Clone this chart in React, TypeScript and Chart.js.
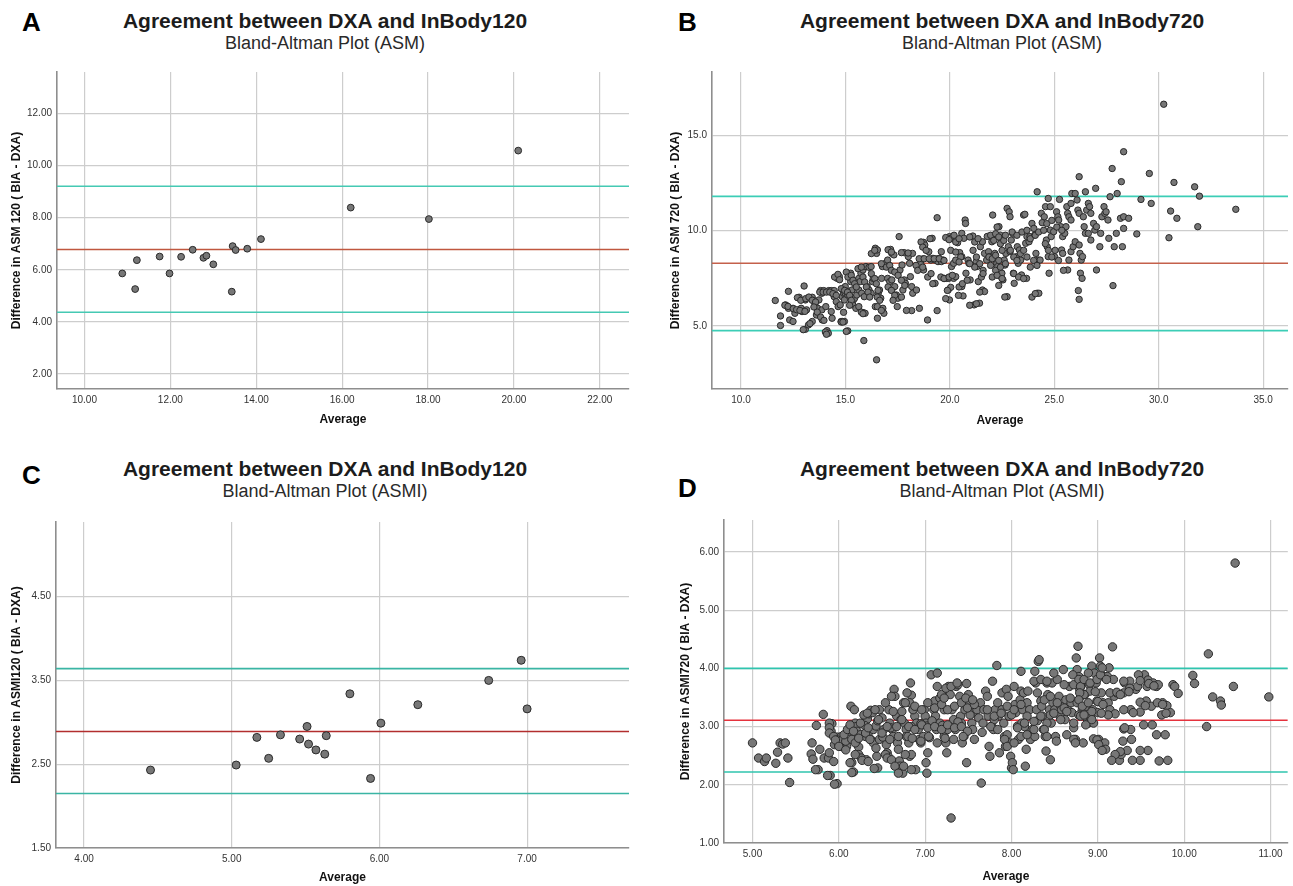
import React, { useEffect, useRef } from 'react';
import { Chart, registerables } from 'chart.js';

Chart.register(...registerables);

// ---------- Data ----------
const A_X_TICKS = [10, 12, 14, 16, 18, 20, 22];
const A_Y_TICKS = [2, 4, 6, 8, 10, 12];
const A_LIMITS = [9.21, 6.78, 4.37]; // upper LoA, mean, lower LoA
const A_POINTS: number[][] = [
  [10.88, 5.86], [11.18, 5.26], [11.22, 6.37], [11.75, 6.51], [11.98, 5.86], [12.25, 6.5],
  [12.52, 6.77], [12.77, 6.46], [12.84, 6.54], [13.0, 6.21], [13.43, 5.16], [13.45, 6.91],
  [13.52, 6.76], [13.79, 6.81], [14.11, 7.18], [16.2, 8.39], [18.02, 7.95], [20.1, 10.58],
];

const B_X_TICKS = [10, 15, 20, 25, 30, 35];
const B_Y_TICKS = [5, 10, 15];
const B_LIMITS = [11.8, 8.29, 4.76];
const B_POINTS: number[][] = [
  [11.64, 6.34], [11.89, 5.53], [11.89, 5.03], [12.13, 6.11], [12.19, 6.06], [12.27, 6.82],
  [12.27, 5.93], [12.33, 5.32], [12.49, 5.93], [12.49, 5.24], [12.58, 5.67], [12.78, 6.51],
  [12.88, 5.93], [12.92, 5.76], [13.02, 7.1], [13.08, 6.37], [13.08, 4.83], [13.14, 5.85],
  [13.23, 5.06], [13.35, 6.46], [13.41, 6.51], [13.41, 5.24], [13.47, 6.34], [13.55, 6.2],
  [13.61, 5.58], [13.67, 5.93], [13.73, 6.37], [13.81, 6.86], [13.87, 6.72], [13.96, 6.86],
  [13.87, 5.85], [13.89, 5.32], [14.06, 6.02], [14.12, 4.76], [14.18, 4.62], [14.2, 6.86],
  [14.32, 6.86], [14.46, 6.86], [14.32, 5.76], [14.36, 5.41], [14.46, 6.54], [14.56, 6.28],
  [14.6, 7.5], [14.71, 7.59], [14.65, 6.02], [14.75, 6.11], [14.79, 5.24], [14.87, 5.24],
  [14.95, 5.24], [14.85, 6.54], [14.91, 6.72], [14.95, 6.37], [14.91, 6.89], [14.99, 7.07],
  [14.99, 6.72], [15.11, 6.63], [15.15, 6.81], [14.91, 5.72], [15.25, 7.77], [15.35, 7.42],
  [15.25, 7.33], [15.31, 6.89], [15.38, 6.37], [15.44, 6.46], [15.54, 6.63], [15.11, 4.75],
  [15.35, 6.11], [15.5, 5.93], [15.64, 6.02], [15.64, 7.5], [15.7, 7.33], [15.74, 7.77],
  [15.84, 7.94], [15.64, 6.89], [15.78, 6.72], [15.9, 6.54], [15.88, 4.24], [15.84, 5.71],
  [15.94, 5.67], [15.98, 8.12], [16.13, 8.08], [16.23, 8.12], [16.04, 7.07], [16.13, 6.89],
  [16.23, 6.72], [16.29, 7.33], [16.33, 7.5], [16.43, 9.08], [16.49, 8.81], [16.53, 8.99],
  [16.49, 3.23], [16.43, 6.02], [16.53, 6.02], [16.53, 5.41], [16.57, 6.72], [16.63, 6.89],
  [16.69, 6.46], [16.73, 7.5], [16.77, 8.12], [16.79, 5.93], [16.84, 5.67], [16.92, 8.29],
  [17.02, 8.46], [17.08, 8.15], [17.02, 7.5], [17.12, 7.33], [17.22, 7.42], [17.16, 9.02],
  [17.22, 8.81], [17.32, 8.73], [17.22, 6.89], [17.36, 7.07], [17.44, 6.63], [17.51, 6.46],
  [17.48, 6.02], [17.57, 9.69], [17.51, 7.77], [17.61, 7.94], [17.71, 8.2], [17.75, 6.89],
  [17.81, 7.42], [17.87, 7.24], [17.81, 8.85], [18.01, 8.64], [18.07, 8.29], [18.11, 7.59],
  [18.17, 7.07], [18.22, 6.72], [18.17, 5.81], [18.21, 8.81], [18.4, 6.89], [18.54, 5.93],
  [18.6, 8.29], [18.7, 8.52], [18.74, 7.94], [18.74, 9.39], [18.8, 9.25], [18.93, 5.32],
  [18.99, 8.9], [19.09, 8.46], [19.19, 8.55], [19.15, 9.6], [19.29, 8.46], [19.35, 8.52],
  [19.43, 8.38], [19.49, 8.55], [19.59, 8.38], [19.68, 8.46], [19.39, 10.68], [19.29, 7.24],
  [19.39, 5.81], [19.59, 8.9], [19.74, 7.5], [19.84, 7.5], [19.94, 7.5], [19.98, 9.69],
  [20.04, 9.6], [19.98, 6.37], [19.92, 6.89], [20.04, 7.03], [20.08, 8.12], [20.18, 8.29],
  [20.28, 8.46], [20.18, 7.5], [20.28, 7.59], [20.28, 9.51], [20.37, 9.37], [20.47, 8.85],
  [20.57, 8.64], [20.57, 9.86], [20.67, 9.6], [20.73, 10.56], [20.75, 10.38], [20.63, 6.58],
  [20.57, 7.07], [20.77, 7.77], [20.87, 8.46], [20.91, 8.29], [20.97, 7.42], [21.1, 9.72],
  [21.16, 6.11], [21.26, 8.38], [21.3, 8.12], [21.36, 7.33], [21.42, 6.2], [21.46, 9.16],
  [21.56, 9.42], [21.66, 8.81], [21.56, 6.89], [21.66, 6.81], [21.76, 8.46], [21.85, 8.9],
  [21.89, 8.64], [21.95, 9.69], [22.01, 9.42], [22.05, 10.82], [22.15, 8.81], [22.21, 8.46],
  [22.25, 8.29], [22.29, 8.12], [22.35, 10.21], [22.41, 9.77], [22.45, 9.51], [22.45, 7.59],
  [22.49, 7.77], [22.54, 7.42], [22.6, 8.46], [22.64, 8.2], [22.68, 8.81], [22.74, 11.17],
  [22.84, 10.99], [22.88, 10.73], [22.74, 6.54], [22.8, 9.16], [22.88, 8.9], [22.94, 9.51],
  [23.0, 9.86], [23.04, 7.77], [23.08, 7.24], [23.2, 8.64], [23.23, 9.16], [23.27, 8.29],
  [23.33, 8.99], [23.39, 8.46], [23.43, 7.68], [23.53, 10.82], [23.59, 10.86], [23.63, 9.34],
  [23.69, 9.69], [23.79, 9.42], [23.83, 9.69], [23.67, 7.5], [23.93, 10.38], [24.02, 10.12],
  [24.06, 9.77], [24.12, 8.81], [24.22, 8.46], [24.32, 8.46], [24.18, 6.72], [24.26, 6.72],
  [24.18, 12.04], [24.38, 10.91], [24.42, 10.42], [24.52, 10.73], [24.58, 11.26], [24.62, 9.51],
  [24.66, 9.16], [24.71, 8.64], [24.71, 11.69], [24.81, 11.26], [24.81, 10.03], [24.85, 9.69],
  [24.97, 9.95], [24.75, 7.77], [25.01, 8.64], [25.11, 10.99], [25.17, 10.73], [25.21, 10.56],
  [25.25, 11.64], [25.31, 10.21], [25.35, 8.99], [25.4, 8.81], [25.4, 9.69], [25.5, 9.86],
  [25.56, 10.21], [25.6, 11.26], [25.64, 10.91], [25.7, 10.73], [25.8, 10.56], [25.7, 8.46],
  [25.8, 8.9], [25.64, 7.94], [25.8, 11.43], [25.84, 11.95], [25.9, 9.16], [26.0, 9.42],
  [26.0, 11.95], [26.09, 11.61], [26.13, 11.08], [26.19, 10.91], [26.19, 9.25], [26.23, 8.81],
  [26.29, 8.46], [26.35, 8.64], [26.15, 6.86], [26.19, 6.4], [26.19, 12.83], [26.25, 7.77],
  [26.33, 7.5], [26.39, 10.73], [26.43, 10.21], [26.49, 9.86], [26.49, 12.04], [26.55, 11.08],
  [26.63, 11.43], [26.69, 11.26], [26.75, 10.91], [26.63, 9.86], [26.75, 9.51], [26.98, 12.22],
  [26.88, 10.38], [26.94, 10.03], [27.02, 10.21], [27.02, 7.94], [27.18, 9.16], [27.22, 9.86],
  [27.28, 10.73], [27.38, 11.26], [27.42, 10.91], [27.48, 10.99], [27.57, 10.56], [27.61, 9.6],
  [27.67, 11.78], [27.77, 13.26], [27.81, 7.12], [27.87, 9.16], [27.97, 9.86], [28.01, 11.95],
  [28.17, 10.65], [28.21, 12.57], [28.26, 9.16], [28.32, 10.12], [28.32, 10.73], [28.32, 14.14],
  [28.56, 10.65], [28.95, 9.83], [29.15, 11.64], [29.55, 13.0], [29.64, 11.43], [30.24, 16.63],
  [30.49, 9.63], [30.57, 11.03], [30.73, 12.53], [30.87, 10.65], [31.72, 12.3], [31.87, 10.21],
  [31.95, 11.81], [33.69, 11.12],
  [12.1, 6.09], [12.25, 6.03], [12.5, 5.91], [12.66, 5.86], [12.82, 5.82], [13.06, 5.77],
  [12.7, 6.49], [12.86, 6.35], [13.1, 6.44], [13.25, 6.52], [13.41, 6.35], [13.57, 6.26],
  [13.77, 6.78], [13.93, 6.78], [14.09, 6.78], [14.25, 6.78], [14.4, 6.7], [14.56, 6.61],
  [13.49, 6.0], [13.65, 5.73], [13.81, 5.47], [13.97, 5.3], [12.98, 4.81], [13.3, 5.13],
  [14.04, 4.69], [14.09, 4.57], [14.48, 7.57], [14.64, 7.71], [14.72, 7.43], [14.8, 6.96],
  [14.96, 6.87], [15.1, 6.78], [15.2, 6.61], [15.28, 6.35], [15.2, 6.09], [15.04, 7.83],
  [15.12, 7.57], [15.28, 7.66], [15.36, 7.4], [15.44, 7.22], [15.52, 7.05], [14.8, 5.21],
  [14.88, 5.21], [15.04, 4.72], [15.6, 8.01], [15.76, 8.09], [15.84, 7.57], [15.92, 7.31],
  [16.0, 7.05], [16.08, 6.78], [16.16, 6.52], [15.76, 5.73], [15.84, 5.65], [16.24, 8.8],
  [16.4, 8.97], [16.24, 7.75], [16.4, 7.49], [16.48, 7.22], [16.56, 6.87], [16.52, 6.52],
  [16.64, 6.35], [16.72, 5.82], [16.72, 8.27], [16.96, 8.09], [17.12, 8.18], [17.2, 7.92],
  [17.36, 7.83], [17.52, 7.66], [17.68, 7.4], [17.84, 7.13], [17.04, 7.05], [17.2, 6.87],
  [17.36, 6.61], [17.28, 6.35], [17.68, 6.52], [17.92, 5.82], [17.04, 9.0], [17.2, 8.88],
  [17.68, 8.85], [18.0, 8.83],
  [18.53, 8.53], [18.77, 8.53], [19.01, 8.53], [19.25, 8.53], [19.49, 8.53], [19.72, 8.44],
  [18.38, 8.18], [18.46, 7.92], [18.7, 8.09], [18.94, 7.57], [19.1, 7.75], [19.18, 7.22],
  [18.62, 9.41], [18.7, 9.14], [18.86, 8.97], [19.05, 9.58], [19.57, 7.57], [19.72, 7.49],
  [19.96, 7.57], [20.12, 7.66], [19.88, 6.87], [19.8, 6.44], [20.44, 7.05], [20.41, 6.61],
  [20.6, 7.22], [20.83, 7.4], [19.8, 9.64], [19.96, 9.53], [20.2, 9.76], [20.28, 9.41],
  [20.44, 9.58], [20.04, 8.97], [20.28, 8.88], [20.52, 8.62], [20.44, 8.36], [20.95, 9.67],
  [21.19, 9.41], [21.35, 9.58], [21.11, 8.97], [21.27, 8.62], [21.43, 8.27], [21.59, 7.92],
  [21.19, 8.09], [20.95, 8.27], [20.95, 6.09], [21.27, 6.17], [21.43, 6.78], [21.51, 7.57],
  [21.59, 7.75], [21.79, 9.7], [21.95, 9.76], [22.1, 9.49], [22.19, 9.84], [22.26, 10.19],
  [22.34, 9.67], [22.42, 9.32], [22.5, 8.97], [22.58, 9.49], [22.66, 9.76], [21.87, 8.62],
  [22.03, 8.53], [22.19, 8.71], [22.34, 8.44], [21.95, 8.18], [22.19, 7.92], [22.42, 8.09],
  [22.66, 8.27], [22.03, 7.57], [22.26, 7.66], [22.5, 7.49], [22.34, 7.13], [22.63, 6.52],
  [22.9, 8.97], [23.06, 8.62], [23.21, 8.44], [23.38, 8.8], [23.53, 8.97], [23.69, 8.62],
  [23.85, 8.09], [24.01, 8.44], [24.17, 8.18], [22.98, 9.93], [23.21, 9.76], [23.45, 9.93],
  [23.69, 10.02], [23.85, 9.58], [24.09, 9.76], [24.25, 9.93], [24.49, 10.02], [23.06, 7.75],
  [23.29, 7.57], [23.53, 7.49], [23.93, 6.52], [24.09, 6.7], [24.57, 9.32], [24.72, 8.97],
  [24.88, 8.62], [25.04, 8.97], [25.2, 8.44], [25.44, 7.92], [24.64, 10.37], [24.88, 10.54],
  [25.12, 10.19], [25.36, 10.02],
];

const C_X_TICKS = [4, 5, 6, 7];
const C_Y_TICKS = [1.5, 2.5, 3.5, 4.5];
const C_LIMITS = [3.64, 2.89, 2.15];
const C_POINTS: number[][] = [
  [4.45, 2.43], [5.03, 2.49], [5.17, 2.82], [5.25, 2.57], [5.33, 2.85], [5.46, 2.8],
  [5.51, 2.95], [5.52, 2.74], [5.57, 2.67], [5.63, 2.62], [5.64, 2.84], [5.8, 3.34],
  [5.94, 2.33], [6.01, 2.99], [6.26, 3.21], [6.74, 3.5], [6.96, 3.74], [7.0, 3.16],
];

const D_X_TICKS = [5, 6, 7, 8, 9, 10, 11];
const D_Y_TICKS = [1, 2, 3, 4, 5, 6];
const D_LIMITS = [4.0, 3.11, 2.22];
const D_POINTS: number[][] = [
  [5.0, 2.72], [5.07, 2.46], [5.14, 2.4], [5.16, 2.46], [5.27, 2.37], [5.29, 2.56],
  [5.32, 2.72], [5.35, 2.7], [5.38, 2.72], [5.41, 2.46], [5.43, 2.04], [5.69, 2.72],
  [5.68, 2.53], [5.7, 2.44], [5.74, 3.02], [5.76, 2.26], [5.78, 2.61], [5.82, 3.21],
  [5.83, 2.46], [5.88, 2.46], [5.89, 2.55], [5.9, 2.16], [5.91, 2.92], [5.92, 3.05],
  [5.95, 2.69], [5.94, 2.4], [5.98, 2.02], [5.98, 2.82], [6.03, 2.66], [6.03, 2.83],
  [6.07, 2.78], [6.11, 2.92], [6.09, 2.66], [6.14, 3.35], [6.18, 3.29], [6.15, 2.38],
  [6.17, 2.22], [6.19, 3.06], [6.2, 3.0], [6.16, 2.78], [6.2, 2.72], [6.23, 2.65],
  [6.21, 2.92], [6.25, 2.86], [6.23, 2.52], [6.26, 2.46], [6.28, 3.06], [6.31, 2.83],
  [6.32, 2.43], [6.33, 3.13], [6.35, 3.22], [6.37, 3.28], [6.39, 3.24], [6.34, 2.89],
  [6.37, 2.78], [6.4, 2.95], [6.4, 2.72], [6.43, 3.01], [6.44, 2.49], [6.45, 2.29],
  [6.43, 2.63], [6.47, 2.78], [6.47, 3.29], [6.5, 3.15], [6.52, 2.95], [6.51, 2.82],
  [6.55, 2.69], [6.56, 2.55], [6.57, 2.49], [6.58, 3.29], [6.59, 3.06], [6.62, 2.95],
  [6.63, 2.83], [6.64, 3.64], [6.65, 3.52], [6.67, 3.18], [6.68, 2.72], [6.69, 2.61],
  [6.7, 2.41], [6.71, 2.32], [6.73, 3.26], [6.75, 3.41], [6.76, 3.06], [6.74, 2.2],
  [6.75, 2.32], [6.78, 2.95], [6.78, 2.83], [6.81, 2.72], [6.82, 2.49], [6.84, 2.52],
  [6.83, 3.75], [6.84, 3.54], [6.82, 3.41], [6.86, 3.29], [6.88, 3.18], [6.9, 3.06],
  [6.92, 2.95], [6.89, 2.26], [6.93, 2.78], [6.95, 2.72], [6.98, 2.83], [6.99, 3.29],
  [7.0, 3.18], [7.01, 3.06], [7.02, 3.01], [7.01, 2.38], [7.02, 2.2], [7.03, 2.55],
  [7.05, 2.81], [7.07, 3.89], [7.1, 3.29], [7.11, 3.44], [7.12, 3.18], [7.13, 2.95],
  [7.14, 3.92], [7.17, 3.06], [7.17, 3.49], [7.19, 3.55], [7.22, 3.29], [7.22, 2.83],
  [7.24, 2.72], [7.25, 2.55], [7.26, 2.95], [7.27, 3.69], [7.29, 3.55], [7.3, 1.43],
  [7.31, 3.29], [7.33, 3.12], [7.35, 2.95], [7.36, 3.69], [7.38, 3.72], [7.4, 3.52],
  [7.41, 3.18], [7.42, 3.06], [7.43, 2.72], [7.45, 2.83], [7.46, 3.29], [7.48, 3.74],
  [7.49, 3.41], [7.5, 3.55], [7.48, 2.38], [7.54, 3.06], [7.55, 2.95], [7.56, 3.24],
  [7.57, 2.78], [7.6, 3.29], [7.62, 3.15], [7.64, 3.41], [7.65, 2.03], [7.67, 3.06],
  [7.68, 3.29], [7.7, 3.61], [7.72, 3.52], [7.73, 3.18], [7.74, 2.66], [7.75, 2.49],
  [7.77, 3.01], [7.78, 3.78], [7.79, 2.95], [7.81, 3.29], [7.83, 4.05], [7.84, 3.41],
  [7.85, 3.18], [7.86, 2.55], [7.89, 3.58], [7.89, 3.29], [7.91, 3.06], [7.92, 2.83],
  [7.93, 2.66], [7.94, 3.64], [7.96, 3.52], [7.97, 3.18], [7.98, 2.72], [7.99, 2.49],
  [8.0, 2.29], [8.01, 2.38], [8.02, 2.26], [8.03, 3.69], [8.04, 3.38], [8.05, 3.24],
  [8.07, 3.01], [8.08, 2.78], [8.1, 3.46], [8.11, 3.61], [8.12, 3.06], [8.13, 3.29],
  [8.11, 3.95], [8.14, 3.58], [8.16, 2.32], [8.17, 2.61], [8.18, 3.41], [8.19, 3.61],
  [8.21, 3.29], [8.22, 2.78], [8.24, 2.95], [8.27, 2.83], [8.29, 3.29], [8.31, 4.12],
  [8.32, 4.15], [8.27, 3.95], [8.28, 3.75], [8.34, 3.44], [8.35, 3.35], [8.36, 3.18],
  [8.37, 2.95], [8.39, 2.83], [8.4, 2.58], [8.41, 3.75], [8.42, 3.55], [8.44, 3.29],
  [8.45, 2.43], [8.46, 3.06], [8.47, 3.75], [8.48, 3.41], [8.5, 3.29], [8.51, 2.83],
  [8.52, 2.75], [8.53, 3.81], [8.55, 3.52], [8.56, 3.18], [8.57, 3.35], [8.58, 3.29],
  [8.6, 3.98], [8.63, 3.46], [8.65, 3.29], [8.67, 3.69], [8.69, 3.41], [8.7, 3.24],
  [8.72, 2.98], [8.74, 2.78], [8.75, 4.18], [8.76, 3.98], [8.77, 4.38], [8.78, 3.86],
  [8.79, 3.64], [8.8, 3.52], [8.82, 3.29], [8.83, 2.72], [8.84, 3.78], [8.85, 3.55],
  [8.87, 3.35], [8.88, 3.12], [8.89, 3.06], [8.9, 3.72], [8.91, 3.61], [8.93, 4.04],
  [8.94, 3.29], [8.95, 3.06], [8.96, 3.92], [8.98, 3.75], [8.99, 3.44], [9.0, 3.24],
  [9.01, 2.78], [9.02, 4.18], [9.03, 4.04], [9.04, 3.58], [9.06, 3.41], [9.07, 3.86],
  [9.08, 2.72], [9.09, 2.61], [9.11, 3.86], [9.12, 3.41], [9.13, 4.01], [9.14, 3.29],
  [9.17, 4.37], [9.18, 3.81], [9.19, 3.52], [9.2, 3.22], [9.22, 3.58], [9.25, 2.42],
  [9.27, 2.52], [9.3, 3.58], [9.31, 3.75], [9.34, 2.59], [9.37, 3.78], [9.38, 3.29],
  [9.38, 2.95], [9.39, 2.78], [9.44, 3.64], [9.46, 3.69], [9.49, 3.25], [9.49, 2.42],
  [9.54, 3.89], [9.56, 3.44], [9.58, 3.8], [9.58, 2.59], [9.62, 3.35], [9.63, 3.03],
  [9.64, 3.75], [9.68, 3.69], [9.7, 3.72], [9.75, 3.41], [9.78, 2.86], [9.8, 3.36],
  [9.81, 2.42], [9.84, 3.24], [9.87, 3.72], [9.89, 3.69], [9.93, 3.57], [10.1, 3.88],
  [10.12, 3.74], [10.26, 3.0], [10.28, 4.25], [10.33, 3.51], [10.42, 3.44], [10.43, 3.37],
  [10.57, 3.69], [10.59, 5.81], [10.98, 3.51],
  [6.3, 3.02], [6.45, 3.1], [6.6, 2.98], [6.72, 3.12], [6.95, 3.05], [7.08, 3.1],
  [7.2, 3.02], [7.38, 3.08], [7.52, 3.2], [7.66, 2.9], [7.8, 3.12], [8.0, 3.2],
  [8.15, 3.0], [8.3, 3.1], [8.45, 3.2], [8.62, 3.12], [8.78, 3.2], [8.92, 3.15],
  [5.89, 3.06], [5.89, 2.98], [5.89, 2.89], [5.94, 2.83], [5.98, 2.77], [6.0, 2.67],
  [6.04, 2.77], [6.08, 2.75], [6.06, 2.86], [6.1, 2.95], [6.13, 3.03], [6.17, 2.92],
  [6.15, 2.78], [6.19, 2.72], [6.23, 2.8], [6.25, 3.06], [6.29, 3.2], [6.33, 3.23],
  [6.31, 2.89], [6.34, 2.98], [6.36, 2.78], [6.42, 3.29], [6.46, 3.12], [6.5, 2.89],
  [6.54, 3.41], [6.56, 3.0], [6.59, 2.78], [6.61, 3.52], [6.63, 3.26], [6.67, 3.0],
  [6.69, 2.83], [6.73, 3.12], [6.77, 3.41], [6.79, 3.58], [6.8, 2.83], [6.84, 3.0],
  [6.86, 3.29], [6.54, 2.52], [6.56, 2.46], [6.61, 2.43], [6.65, 2.32], [6.69, 2.2],
  [6.77, 2.52], [6.84, 2.26], [5.96, 2.77], [6.0, 2.66], [6.08, 2.6], [6.19, 2.52],
  [6.27, 2.42], [6.34, 2.4], [6.41, 2.28], [5.73, 2.26], [5.87, 2.16], [5.95, 2.01],
  [6.15, 2.21], [6.13, 2.38],
  [6.88, 3.35], [6.96, 3.29], [7.03, 3.41], [7.11, 3.32], [7.19, 3.38], [7.26, 3.29],
  [7.34, 3.35], [7.42, 3.41], [7.49, 3.32], [7.57, 3.38], [6.81, 3.0], [6.88, 2.95],
  [6.96, 3.03], [7.03, 2.98], [7.11, 3.0], [7.19, 2.95], [7.26, 3.03], [7.34, 2.98],
  [7.42, 3.0], [7.49, 2.92], [6.85, 2.8], [6.95, 2.75], [7.04, 2.83], [7.14, 2.72],
  [7.23, 2.8], [7.33, 2.78], [7.44, 2.83], [7.14, 3.69], [7.24, 3.66], [7.3, 3.69],
  [7.37, 3.75], [7.22, 3.49], [7.47, 3.49], [7.55, 3.46], [7.72, 3.29], [7.8, 3.18],
  [7.88, 3.23], [7.95, 3.35], [8.03, 3.29], [8.11, 3.38], [8.18, 3.18], [8.26, 3.09],
  [7.76, 3.0], [7.84, 2.95], [7.95, 2.86], [8.07, 2.98], [8.15, 3.06], [7.92, 2.78],
  [7.95, 2.66], [8.03, 2.72], [8.11, 2.83], [8.18, 2.86], [8.26, 2.95], [8.3, 3.58],
  [8.38, 3.46], [8.45, 3.52], [8.53, 3.41], [8.61, 3.32], [8.68, 3.49], [8.76, 3.41],
  [8.84, 3.55], [8.34, 3.18], [8.41, 3.06], [8.49, 3.23], [8.57, 3.12], [8.64, 3.26],
  [8.72, 3.06], [8.8, 3.18], [8.38, 2.95], [8.41, 2.83], [8.64, 2.86], [8.72, 2.78],
  [8.74, 2.72], [8.26, 3.78], [8.34, 3.81], [8.41, 3.78], [8.49, 3.92], [8.61, 3.72],
  [8.71, 3.89], [8.72, 3.72], [8.8, 3.69], [8.78, 3.81], [8.8, 3.69], [8.79, 3.58],
  [8.78, 3.46], [8.84, 3.81], [8.89, 3.92], [8.91, 3.75], [8.97, 3.6], [8.99, 3.81],
  [9.03, 3.89], [9.05, 4.01], [9.1, 3.81], [8.82, 3.35], [8.89, 3.41], [8.84, 3.2],
  [8.93, 3.26], [9.0, 3.43], [9.06, 3.38], [9.12, 3.2], [9.04, 3.23], [8.86, 3.03],
  [8.93, 3.12], [9.14, 3.58], [9.22, 3.59], [9.26, 3.55], [9.3, 3.78], [9.37, 3.66],
  [9.36, 3.6], [9.3, 3.29], [9.41, 3.24], [9.49, 3.42], [9.55, 3.36], [9.47, 3.89],
  [9.49, 3.79], [9.57, 3.69], [9.59, 3.74], [9.65, 3.7], [9.69, 3.41], [9.75, 3.38],
  [9.74, 3.2], [9.79, 3.23], [8.95, 2.79], [8.99, 2.77], [9.01, 2.69], [9.05, 2.59],
  [9.3, 2.96], [9.31, 2.98], [9.29, 2.75], [9.26, 2.57], [9.2, 2.52], [9.16, 2.42],
  [9.4, 2.42], [9.49, 2.59], [9.53, 3.03], [9.68, 2.86], [9.71, 2.41],
];

// ---------- Styling helpers ----------
const TICK_FONT = '"Liberation Sans Narrow", "Arial Narrow", "Liberation Sans", Arial, sans-serif';
const TEXT_FONT = '"Liberation Sans", Arial, Helvetica, sans-serif';

type PanelCfg = {
  points: number[][];
  limits: number[];
  xTicks: number[];
  yTicks: number[];
  xRange: [number, number];
  yRange: [number, number];
  decimals: number;
  yTitle: string;
  box: { left: number; top: number; width: number; height: number };
  padTop: number;
  padRight: number;
  yWidth: number;
  xHeight: number;
  yTitlePad: number;
  xTitlePad: number;
  radius: number;
  red: string;
  cyan: string;
};

function PanelChart({ cfg }: { cfg: PanelCfg }) {
  const ref = useRef<HTMLCanvasElement | null>(null);
  useEffect(() => {
    if (!ref.current) return;
    const [xmin, xmax] = cfg.xRange;
    const [ymin, ymax] = cfg.yRange;
    const lineSets = cfg.limits.map((v, i) => ({
      data: [
        { x: xmin, y: v },
        { x: xmax, y: v },
      ],
      showLine: true,
      borderColor: i === 1 ? cfg.red : cfg.cyan,
      borderWidth: 1.6,
      pointRadius: 0,
      fill: false,
      order: 1,
    }));
    const chart = new Chart(ref.current, {
      type: 'scatter',
      data: {
        datasets: [
          {
            data: cfg.points.map(([x, y]) => ({ x, y })),
            backgroundColor: '#777777',
            borderColor: '#2a2a2a',
            borderWidth: 1,
            pointRadius: cfg.radius,
            order: 0,
          } as any,
          ...(lineSets as any[]),
        ],
      },
      options: {
        responsive: false,
        animation: false,
        devicePixelRatio: 1,
        layout: { padding: { top: cfg.padTop, right: cfg.padRight, left: 0, bottom: 0 } },
        plugins: {
          legend: { display: false },
          tooltip: { enabled: false },
          title: { display: false },
        },
        scales: {
          x: {
            type: 'linear',
            min: xmin,
            max: xmax,
            afterBuildTicks: (s: any) => {
              s.ticks = cfg.xTicks.map((value) => ({ value }));
            },
            afterFit: (s: any) => {
              s.height = cfg.xHeight;
            },
            grid: { color: '#cdcdcd', lineWidth: 1.2, drawTicks: false },
            border: { display: true, color: '#8e8e8e', width: 1.6 },
            ticks: {
              font: { family: TICK_FONT, size: 10 },
              color: '#333333',
              padding: 5,
              maxRotation: 0,
              autoSkip: false,
              callback: (v: any) => Number(v).toFixed(cfg.decimals),
            },
            title: {
              display: true,
              text: 'Average',
              font: { family: TEXT_FONT, size: 12, weight: 'bold' },
              color: '#111111',
              padding: { top: 0, bottom: cfg.xTitlePad },
            },
          },
          y: {
            type: 'linear',
            min: ymin,
            max: ymax,
            afterBuildTicks: (s: any) => {
              s.ticks = cfg.yTicks.map((value) => ({ value }));
            },
            afterFit: (s: any) => {
              s.width = cfg.yWidth;
            },
            grid: { color: '#cdcdcd', lineWidth: 1.2, drawTicks: false },
            border: { display: true, color: '#8e8e8e', width: 1.6 },
            ticks: {
              font: { family: TICK_FONT, size: 10 },
              color: '#333333',
              padding: 5,
              autoSkip: false,
              callback: (v: any) => Number(v).toFixed(cfg.decimals),
            },
            title: {
              display: true,
              text: cfg.yTitle,
              font: { family: TEXT_FONT, size: 12, weight: 'bold' },
              color: '#111111',
              padding: { top: cfg.yTitlePad, bottom: 0 },
            },
          },
        },
      } as any,
    });
    return () => chart.destroy();
  }, [cfg]);

  return (
    <canvas
      ref={ref}
      width={cfg.box.width}
      height={cfg.box.height}
      style={{
        position: 'absolute',
        left: cfg.box.left,
        top: cfg.box.top,
        width: cfg.box.width,
        height: cfg.box.height,
      }}
    />
  );
}

const PANELS: PanelCfg[] = [
  {
    points: A_POINTS, limits: A_LIMITS, xTicks: A_X_TICKS, yTicks: A_Y_TICKS,
    xRange: [9.36, 22.68], yRange: [1.42, 13.6], decimals: 2,
    yTitle: 'Difference in ASM 120 ( BIA - DXA)',
    box: { left: 0, top: 60, width: 646, height: 383 },
    padTop: 12, padRight: 17, yWidth: 57, xHeight: 54, yTitlePad: 9, xTitlePad: 16,
    radius: 3.4, red: '#c0573f', cyan: '#45c9b3',
  },
  {
    points: B_POINTS, limits: B_LIMITS, xTicks: B_X_TICKS, yTicks: B_Y_TICKS,
    xRange: [8.61, 36.19], yRange: [1.7, 18.32], decimals: 1,
    yTitle: 'Difference in ASM 720 ( BIA - DXA)',
    box: { left: 650, top: 60, width: 643, height: 383 },
    padTop: 12, padRight: 3, yWidth: 62, xHeight: 54, yTitlePad: 18, xTitlePad: 15,
    radius: 3.2, red: '#c4604b', cyan: '#3ccdb6',
  },
  {
    points: C_POINTS, limits: C_LIMITS, xTicks: C_X_TICKS, yTicks: C_Y_TICKS,
    xRange: [3.81, 7.69], yRange: [1.5, 5.39], decimals: 2,
    yTitle: 'Difference in ASMI120 ( BIA - DXA)',
    box: { left: 0, top: 505, width: 646, height: 381 },
    padTop: 17, padRight: 17, yWidth: 56, xHeight: 38, yTitlePad: 9, xTitlePad: 1,
    radius: 4, red: '#b22e2e', cyan: '#3ab5a4',
  },
  {
    points: D_POINTS, limits: D_LIMITS, xTicks: D_X_TICKS, yTicks: D_Y_TICKS,
    xRange: [4.67, 11.2], yRange: [1.0, 6.55], decimals: 2,
    yTitle: 'Difference in ASMI720 ( BIA - DXA)',
    box: { left: 650, top: 505, width: 643, height: 381 },
    padTop: 15, padRight: 0, yWidth: 74, xHeight: 43, yTitlePad: 28, xTitlePad: 2,
    radius: 4.2, red: '#e5323d', cyan: '#2fc4ae',
  },
];

const HEADINGS = [
  { letter: 'A', lx: 22, ly: 7, cx: 325, ty: 9, title: 'Agreement between DXA and InBody120', sub: 'Bland-Altman Plot (ASM)' },
  { letter: 'B', lx: 678, ly: 7, cx: 1002, ty: 9, title: 'Agreement between DXA and InBody720', sub: 'Bland-Altman Plot (ASM)' },
  { letter: 'C', lx: 22, ly: 460, cx: 325, ty: 457, title: 'Agreement between DXA and InBody120', sub: 'Bland-Altman Plot (ASMI)' },
  { letter: 'D', lx: 678, ly: 473, cx: 1002, ty: 457, title: 'Agreement between DXA and InBody720', sub: 'Bland-Altman Plot (ASMI)' },
];

export default function App() {
  return (
    <div
      style={{
        position: 'absolute',
        left: 0,
        top: 0,
        width: 1293,
        height: 886,
        background: '#ffffff',
        fontFamily: TEXT_FONT,
        overflow: 'hidden',
      }}
    >
      {PANELS.map((p, i) => (
        <PanelChart key={i} cfg={p} />
      ))}
      {HEADINGS.map((h) => (
        <React.Fragment key={h.letter}>
          <div
            style={{
              position: 'absolute', left: h.lx, top: h.ly, fontSize: 26, fontWeight: 'bold',
              lineHeight: '30px', color: '#000',
            }}
          >
            {h.letter}
          </div>
          <div
            style={{
              position: 'absolute', left: h.cx - 300, width: 600, top: h.ty, textAlign: 'center',
              fontSize: 21, fontWeight: 'bold', lineHeight: '24px', color: '#1c1c1c', whiteSpace: 'nowrap',
            }}
          >
            {h.title}
          </div>
          <div
            style={{
              position: 'absolute', left: h.cx - 300, width: 600, top: h.ty + 24, textAlign: 'center',
              fontSize: 18, lineHeight: '20px', color: '#2a2a2a', whiteSpace: 'nowrap',
            }}
          >
            {h.sub}
          </div>
        </React.Fragment>
      ))}
    </div>
  );
}
